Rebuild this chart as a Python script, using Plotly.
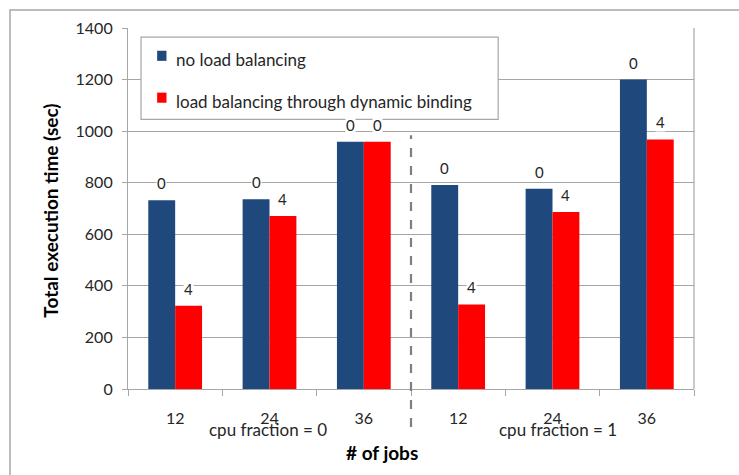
import plotly.graph_objects as go

# Job counts per group and CPU-fraction group labels
jobs = ["12", "24", "36", "12", "24", "36"]
groups = ["cpu fraction = 0", "cpu fraction = 1"]

# Total execution time (sec)
no_lb = [732, 736, 959, 791, 777, 1200]
dyn_lb = [323, 671, 959, 328, 686, 968]

# Labels shown above each bar
no_lb_labels = ["0", "0", "0", "0", "0", "0"]
dyn_lb_labels = ["4", "4", "0", "4", "4", "4"]

series_names = ["no load balancing", "load balancing through dynamic binding"]
BLUE = "#1F497D"
RED = "#FF0000"
GRID = "#A6A6A6"
TEXT = "#262626"
FONT = "Lato"

x = list(range(len(jobs)))
BARGAP = 0.43
half = (1 - BARGAP) / 4  # offset of each bar centre from the category centre

fig = go.Figure()
fig.add_bar(x=x, y=no_lb, marker_color=BLUE, marker_line_width=0,
            name=series_names[0], showlegend=False)
fig.add_bar(x=x, y=dyn_lb, marker_color=RED, marker_line_width=0,
            name=series_names[1], showlegend=False)

annotations = []
# value labels above bars, with white box to mask gridlines
for xi, v, t in zip(x, no_lb, no_lb_labels):
    annotations.append(dict(x=xi - half, y=v, text=t, showarrow=False, yshift=17,
                            bgcolor="white", borderpad=0,
                            font=dict(size=15, color=TEXT, family=FONT)))
for xi, v, t in zip(x, dyn_lb, dyn_lb_labels):
    annotations.append(dict(x=xi + half, y=v, text=t, showarrow=False, yshift=17,
                            bgcolor="white", borderpad=0,
                            font=dict(size=15, color=TEXT, family=FONT)))

# group labels under the job counts
for gx, g in zip([0.98, 4.06], groups):
    annotations.append(dict(x=gx, y=0, yref="y", text=g, showarrow=False,
                            yanchor="middle", yshift=-40,
                            font=dict(size=17, color=TEXT, family=FONT)))

# axis titles
annotations.append(dict(x=0.448, xref="paper", y=0, yref="y", text="<b># of jobs</b>",
                        showarrow=False, yanchor="middle", yshift=-63,
                        font=dict(size=19, color="#000", family=FONT)))
annotations.append(dict(x=-0.136, xref="paper", y=0.494, yref="paper",
                        text="<b>Total execution time (sec)</b>", textangle=-90,
                        showarrow=False, xanchor="center", yanchor="middle",
                        font=dict(size=19, color="#000", family=FONT)))

# legend drawn by hand
annotations.append(dict(x=0.081, xref="paper", y=0.913, yref="paper", xanchor="left",
                        yanchor="middle", text=series_names[0], showarrow=False,
                        font=dict(size=17, color=TEXT, family=FONT)))
annotations.append(dict(x=0.081, xref="paper", y=0.797, yref="paper", xanchor="left",
                        yanchor="middle", text=series_names[1], showarrow=False,
                        font=dict(size=17, color=TEXT, family=FONT)))

shapes = [
    # outer chart border
    dict(type="rect", xref="paper", yref="paper", x0=-0.2085, y0=-0.4, x1=1.2, y1=1.0499,
         line=dict(color=GRID, width=1.5), layer="below"),
    # legend box
    dict(type="rect", xref="paper", yref="paper", x0=0.023, y0=0.747, x1=0.654, y1=0.975,
         line=dict(color=GRID, width=1.2), fillcolor="white", layer="above"),
    dict(type="rect", xref="paper", yref="paper", x0=0.0515, y0=0.909, x1=0.068, y1=0.937,
         line=dict(width=0), fillcolor=BLUE, layer="above"),
    dict(type="rect", xref="paper", yref="paper", x0=0.0515, y0=0.793, x1=0.068, y1=0.821,
         line=dict(width=0), fillcolor=RED, layer="above"),
    # dashed separator between the two CPU-fraction groups
    dict(type="line", xref="x", yref="paper", x0=2.5, x1=2.5, y0=-0.105, y1=0.703,
         line=dict(color="#7F7F7F", width=2.2, dash="dash")),
    # right border of plot area
    dict(type="line", xref="paper", yref="paper", x0=1, x1=1, y0=0, y1=1,
         line=dict(color=GRID, width=1.2)),
]

fig.update_layout(
    width=739, height=475,
    margin=dict(l=128, r=45, t=28, b=86),
    paper_bgcolor="white", plot_bgcolor="white",
    barmode="group", bargap=BARGAP, bargroupgap=0,
    font=dict(family=FONT, color=TEXT, size=15),
    annotations=annotations, shapes=shapes,
    xaxis=dict(range=[-0.5, 5.5], tickmode="array", tickvals=x, ticktext=jobs,
               ticks="", showgrid=False, zeroline=False,
               showline=True, linecolor=GRID, linewidth=1.2,
               ticklabelstandoff=15, tickfont=dict(size=16, color=TEXT),
               minor=dict(tick0=0.5, dtick=1, ticks="outside", ticklen=6,
                          tickcolor=GRID, tickwidth=1.2, showgrid=False)),
    yaxis=dict(range=[0, 1400], dtick=200, showgrid=True, gridcolor=GRID, gridwidth=1.2,
               zeroline=False, showline=True, linecolor=GRID, linewidth=1.2,
               ticks="outside", ticklen=5, tickcolor=GRID, tickwidth=1.2,
               ticklabelstandoff=6, tickfont=dict(size=16, color=TEXT)),
)

fig.write_html("out.html")
